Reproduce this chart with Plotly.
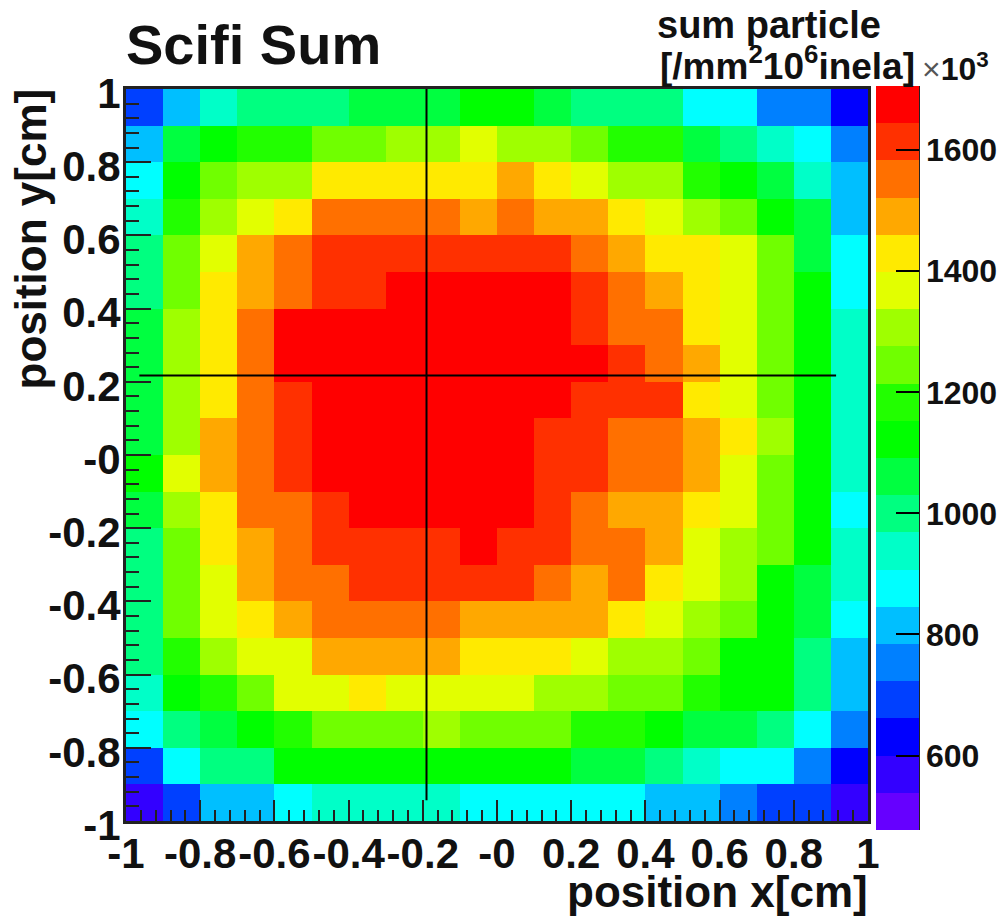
import plotly.graph_objects as go

x_centers = [-0.95, -0.85, -0.75, -0.65, -0.55, -0.45, -0.35, -0.25, -0.15, -0.05,
             0.05, 0.15, 0.25, 0.35, 0.45, 0.55, 0.65, 0.75, 0.85, 0.95]
y_centers = [0.95, 0.85, 0.75, 0.65, 0.55, 0.45, 0.35, 0.25, 0.15, 0.05,
             -0.05, -0.15, -0.25, -0.35, -0.45, -0.55, -0.65, -0.75, -0.85, -0.95]

# values in units of 10^3 (top row first)
row_01 = [692, 815, 938, 999, 999, 999, 1060, 1060, 1060, 1122, 1122, 1060, 999, 999, 999, 876, 876, 753, 753, 631]
row_02 = [815, 1060, 1122, 1183, 1183, 1245, 1245, 1306, 1306, 1367, 1306, 1306, 1245, 1183, 1183, 1060, 999, 938, 876, 753]
row_03 = [876, 1122, 1245, 1306, 1306, 1429, 1429, 1429, 1429, 1429, 1490, 1429, 1367, 1306, 1306, 1183, 1122, 1060, 938, 815]
row_04 = [938, 1183, 1306, 1367, 1429, 1552, 1552, 1552, 1552, 1490, 1552, 1490, 1490, 1429, 1367, 1306, 1245, 1122, 1060, 815]
row_05 = [999, 1245, 1367, 1490, 1552, 1613, 1613, 1613, 1613, 1613, 1613, 1613, 1552, 1490, 1429, 1429, 1367, 1245, 1060, 876]
row_06 = [999, 1245, 1429, 1490, 1552, 1613, 1613, 1675, 1675, 1675, 1675, 1675, 1613, 1552, 1490, 1429, 1367, 1245, 1122, 876]
row_07 = [1060, 1306, 1429, 1552, 1675, 1675, 1675, 1675, 1675, 1675, 1675, 1675, 1613, 1552, 1552, 1429, 1367, 1245, 1122, 938]
row_08 = [1060, 1306, 1429, 1552, 1675, 1675, 1675, 1675, 1675, 1675, 1675, 1675, 1675, 1613, 1552, 1490, 1367, 1245, 1122, 938]
row_09 = [1060, 1306, 1429, 1552, 1613, 1675, 1675, 1675, 1675, 1675, 1675, 1675, 1613, 1613, 1613, 1429, 1367, 1245, 1122, 938]
row_10 = [1060, 1306, 1490, 1552, 1613, 1675, 1675, 1675, 1675, 1675, 1675, 1613, 1613, 1552, 1552, 1490, 1429, 1306, 1122, 938]
row_11 = [1122, 1367, 1490, 1552, 1613, 1675, 1675, 1675, 1675, 1675, 1675, 1613, 1613, 1552, 1552, 1490, 1367, 1245, 1122, 938]
row_12 = [1060, 1306, 1429, 1552, 1552, 1613, 1675, 1675, 1675, 1675, 1675, 1613, 1552, 1490, 1490, 1429, 1367, 1245, 1122, 876]
row_13 = [999, 1245, 1429, 1490, 1552, 1613, 1613, 1613, 1613, 1675, 1613, 1613, 1552, 1552, 1490, 1367, 1306, 1245, 1122, 938]
row_14 = [999, 1245, 1367, 1490, 1552, 1552, 1613, 1613, 1613, 1613, 1613, 1552, 1490, 1552, 1429, 1367, 1306, 1122, 1060, 938]
row_15 = [999, 1245, 1367, 1429, 1490, 1552, 1552, 1552, 1552, 1490, 1490, 1490, 1490, 1429, 1367, 1306, 1245, 1122, 1060, 876]
row_16 = [999, 1183, 1306, 1367, 1367, 1490, 1490, 1490, 1490, 1429, 1429, 1429, 1367, 1306, 1306, 1245, 1122, 1122, 999, 815]
row_17 = [938, 1122, 1183, 1245, 1367, 1367, 1429, 1367, 1367, 1367, 1367, 1306, 1306, 1245, 1245, 1183, 1122, 1122, 999, 815]
row_18 = [876, 999, 1060, 1122, 1183, 1245, 1245, 1245, 1306, 1245, 1245, 1245, 1183, 1183, 1122, 1060, 1060, 999, 876, 753]
row_19 = [692, 876, 999, 999, 1122, 1122, 1122, 1122, 1122, 1122, 1122, 1122, 1060, 1060, 999, 938, 876, 876, 753, 631]
row_20 = [569, 692, 815, 815, 876, 938, 938, 938, 938, 876, 876, 876, 876, 876, 815, 815, 753, 692, 692, 569]
z_values = [row_01, row_02, row_03, row_04, row_05, row_06, row_07, row_08, row_09, row_10,
            row_11, row_12, row_13, row_14, row_15, row_16, row_17, row_18, row_19, row_20]

palette = ["#6600FF", "#3300FF", "#0000FF", "#0040FF", "#0080FF", "#00BFFF", "#00FFFF",
           "#00FFC8", "#00FF80", "#00FF40", "#00FF00", "#22FF00", "#70FF00", "#9FFF00",
           "#E2FF00", "#FFEA00", "#FFA800", "#FF7000", "#FF3000", "#FF0000"]
z_min, z_max = 477, 1706

axis_ticks = [-1, -0.8, -0.6, -0.4, -0.2, 0, 0.2, 0.4, 0.6, 0.8, 1]
axis_labels = ["-1", "-0.8", "-0.6", "-0.4", "-0.2", "-0", "0.2", "0.4", "0.6", "0.8", "1"]
bar_ticks = [600, 800, 1000, 1200, 1400, 1600]

cross_x = [-0.19, -0.19]
cross_x_y = [1.0, -0.943]
cross_y_x = [-0.964, 0.914]
cross_y = [0.217, 0.217]

FONT = "Liberation Sans"
W, H = 1005, 917
L, R, T, B = 126, 868, 89, 821
PW, PH = R - L, B - T

scale = []
n = len(palette)
for i, c in enumerate(palette):
    scale.append([i / n, c])
    scale.append([(i + 1) / n, c])

fig = go.Figure()
fig.add_trace(go.Heatmap(
    x=x_centers, y=y_centers, z=z_values, zmin=z_min, zmax=z_max,
    colorscale=scale, hoverongaps=False,
    colorbar=dict(
        x=(876 - L) / PW, xanchor="left", xpad=0, ypad=0,
        y=1 + (T - 86) / PH, yanchor="top",
        thickness=43, thicknessmode="pixels", len=744, lenmode="pixels",
        outlinewidth=0, ticks="inside", ticklen=23, tickwidth=2, tickcolor="black",
        tickvals=bar_ticks, ticktext=[str(v) for v in bar_ticks],
        tickfont=dict(family=FONT, size=32, color="#111111", weight="bold"),
    ),
))
fig.add_trace(go.Scatter(x=cross_x, y=cross_x_y, mode="lines", line=dict(color="black", width=2), showlegend=False))
fig.add_trace(go.Scatter(x=cross_y_x, y=cross_y, mode="lines", line=dict(color="black", width=2), showlegend=False))

axis_common = dict(
    range=[-1, 1], tickmode="array", tickvals=axis_ticks, ticktext=axis_labels,
    tickfont=dict(family=FONT, size=42, color="#111111", weight="bold"),
    ticks="inside", tickwidth=2, tickcolor="#222222",
    showline=True, linecolor="#222222", linewidth=3, mirror=True,
    showgrid=False, zeroline=False, tickangle=0,
)
fig.update_xaxes(**axis_common, ticklen=21, ticklabelstandoff=-6,
                 minor=dict(ticks="inside", ticklen=11, tickwidth=2, tickcolor="#222222", tick0=-1, dtick=0.04))
fig.update_yaxes(**axis_common, ticklen=25, ticklabelstandoff=-6, ticklabelshift=4,
                 minor=dict(ticks="inside", ticklen=13, tickwidth=2, tickcolor="#222222", tick0=-1, dtick=0.04))

def note(text, px, py, size, xanchor="left", yanchor="middle", angle=0, color="#111111"):
    fig.add_annotation(text=text, xref="paper", yref="paper",
                       x=(px - L) / PW, y=(B - py) / PH, xanchor=xanchor, yanchor=yanchor,
                       textangle=angle, showarrow=False,
                       font=dict(family=FONT, size=size, color=color, weight="bold"))

note("Scifi Sum", 124, 44, 56)
note("sum particle", 655, 25, 38)
note("[/mm<sup>2</sup>10<sup>6</sup>inela]", 658, 63, 37)
fig.add_annotation(text="<span style='color:#555555'>×</span><b>10<sup>3</sup></b>", xref="paper", yref="paper",
                   x=(920 - L) / PW, y=(B - 67) / PH,
                   xanchor="left", yanchor="middle", showarrow=False,
                   font=dict(family=FONT, size=32, color="#111111"))
note("position x[cm]", 870, 891, 44, xanchor="right")
note("position y[cm]", 30, 87, 44, xanchor="center", yanchor="top", angle=-90)

fig.add_shape(type="line", xref="paper", yref="paper",
              x0=(919 - L) / PW, x1=(919 - L) / PW, y0=(B - 86) / PH, y1=(B - 830) / PH,
              line=dict(color="#222222", width=2))

fig.update_layout(
    width=W, height=H, margin=dict(l=L, r=W - R, t=T, b=H - B, autoexpand=False),
    paper_bgcolor="white", plot_bgcolor="white", showlegend=False,
)
fig.write_html("out.html", config=dict(displayModeBar=False),
               post_script="document.body.style.margin='0';document.body.style.overflow='hidden';")
